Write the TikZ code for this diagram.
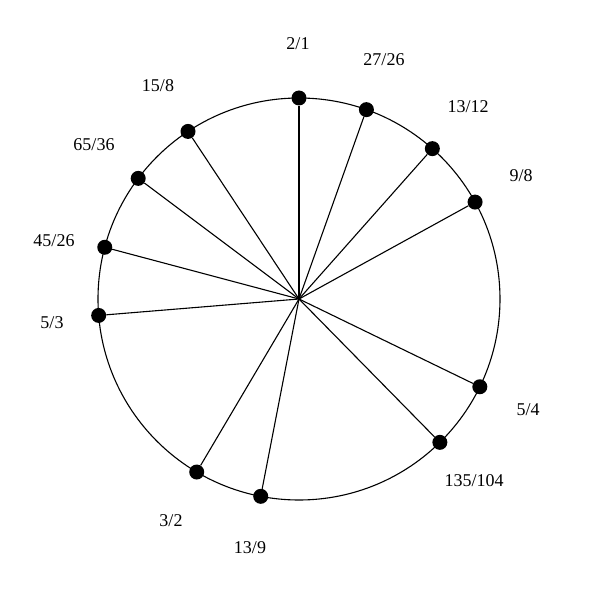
\documentclass[tikz,border=0pt]{standalone}
\usepackage{fontspec}
\setmainfont{Liberation Serif}
\begin{document}
\begin{tikzpicture}[x=1pt,y=1pt,
  dot/.style={circle,fill=black,inner sep=0pt,minimum size=15pt},
  spoke/.style={line width=1.1pt},
  lbl/.style={font=\fontsize{18}{21}\selectfont,text depth=0pt,inner sep=1pt}]
\useasboundingbox (-299,-301) rectangle (301,299);
\coordinate (c) at (0,0);
\draw[line width=1.1pt] (c) circle (201);
\foreach \n/\a in {p1/90, p2/70.40, p3/48.43, p4/28.83, p5/-25.89, p6/-45.50,
  p7/-100.98, p8/-120.59, p9/-175.31, p10/165.09, p11/143.12, p12/123.52}{
  \node[dot] (\n) at (\a:201) {};
  \draw[spoke] (c) -- (\n);
}
\node[lbl] (l1) at (-1,255) {2/1};
\node[lbl] (l2) at (85,239) {27/26};
\node[lbl] (l3) at (169,192) {13/12};
\node[lbl] (l4) at (222,123) {9/8};
\node[lbl] (l5) at (229,-111) {5/4};
\node[lbl] (l6) at (175,-182) {135/104};
\node[lbl] (l7) at (-49,-249) {13/9};
\node[lbl] (l8) at (-128,-222) {3/2};
\node[lbl] (l9) at (-247,-24) {5/3};
\node[lbl] (l10) at (-245,58) {45/26};
\node[lbl] (l11) at (-205,154) {65/36};
\node[lbl] (l12) at (-141,213) {15/8};
\end{tikzpicture}
\end{document}
